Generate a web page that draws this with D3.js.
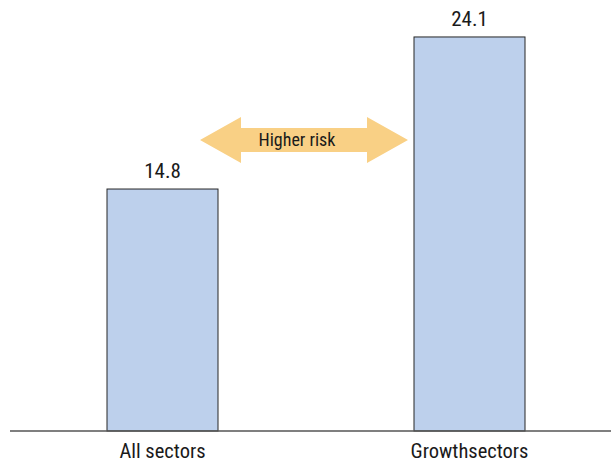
<!DOCTYPE html>
<html>
<head>
<meta charset="utf-8">
<script src="https://cdn.jsdelivr.net/npm/d3@7"></script>
<style>
  html, body { margin: 0; padding: 0; background: #fff; }
  svg { display: block; }
  text { font-family: "Roboto Condensed", "Arial Narrow", sans-serif; fill: #1a1a1a; }
</style>
</head>
<body>
<svg id="chart" width="611" height="463"></svg>
<script>
// Risk level by sector group
const categories = ["All sectors", "Growthsectors"];
const values = [14.8, 24.1];
const arrowLabel = "Higher risk";

const width = 611, height = 463;
const baseline = 431;
const fontFamily = '"Roboto Condensed", "Arial Narrow", sans-serif';

const svg = d3.select("#chart");

const x = d3.scaleBand()
  .domain(categories)
  .range([9, 623])
  .padding(0);

const y = d3.scaleLinear()
  .domain([0, 25])
  .range([baseline, baseline - 16.35 * 25]);

const barWidth = 111;

// bars
svg.append("g")
  .selectAll("rect")
  .data(values)
  .join("rect")
  .attr("x", (d, i) => x(categories[i]) + x.bandwidth() / 2 - barWidth / 2)
  .attr("y", d => y(d))
  .attr("width", barWidth)
  .attr("height", d => y(0) - y(d))
  .attr("fill", "#bdd0ec")
  .attr("stroke", "#262626")
  .attr("stroke-width", 1);

// value labels
svg.append("g")
  .selectAll("text")
  .data(values)
  .join("text")
  .attr("x", (d, i) => x(categories[i]) + x.bandwidth() / 2)
  .attr("y", d => y(d) - 11)
  .attr("text-anchor", "middle")
  .attr("font-size", 21)
  .text(d => d.toFixed(1));

// baseline axis
const axis = svg.append("g")
  .attr("transform", `translate(0,${baseline})`)
  .call(d3.axisBottom(x).tickSize(0).tickPadding(12));
axis.select(".domain")
  .attr("d", `M10,0H${width}`)
  .attr("stroke", "#555")
  .attr("stroke-width", 1.5);
axis.selectAll(".tick text")
  .attr("font-size", 20.5)
  .attr("fill", "#1a1a1a")
  .attr("font-family", fontFamily);

// double-headed arrow between the two bars
const cx0 = x(categories[0]) + x.bandwidth() / 2;
const cx1 = x(categories[1]) + x.bandwidth() / 2;
const left = cx0 + barWidth / 2 - 18;
const right = cx1 - barWidth / 2 - 6;
const cy = 140;
const headLen = 41, headHalf = 23, shaftHalf = 12;
const arrowPath = d3.path();
arrowPath.moveTo(left, cy);
arrowPath.lineTo(left + headLen, cy - headHalf);
arrowPath.lineTo(left + headLen, cy - shaftHalf);
arrowPath.lineTo(right - headLen, cy - shaftHalf);
arrowPath.lineTo(right - headLen, cy - headHalf);
arrowPath.lineTo(right, cy);
arrowPath.lineTo(right - headLen, cy + headHalf);
arrowPath.lineTo(right - headLen, cy + shaftHalf);
arrowPath.lineTo(left + headLen, cy + shaftHalf);
arrowPath.lineTo(left + headLen, cy + headHalf);
arrowPath.closePath();

svg.append("path")
  .attr("d", arrowPath.toString())
  .attr("fill", "#f9d085");

svg.append("text")
  .attr("x", (left + right) / 2 - 7)
  .attr("y", cy + 6)
  .attr("text-anchor", "middle")
  .attr("font-size", 18)
  .text(arrowLabel);
</script>
</body>
</html>
